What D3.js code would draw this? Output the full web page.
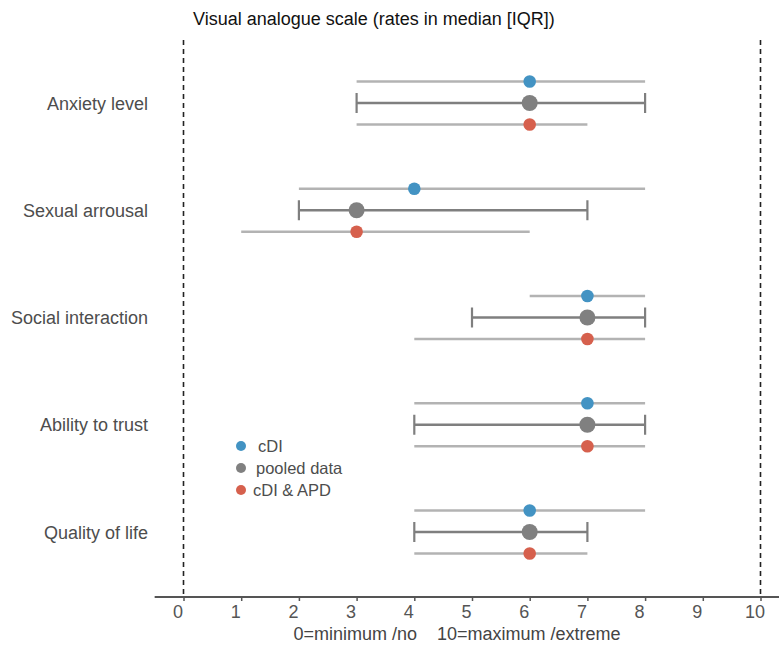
<!DOCTYPE html>
<html><head><meta charset="utf-8">
<script src="https://cdn.jsdelivr.net/npm/d3@7"></script>
<style>body{margin:0;background:#fff}svg{display:block}text{font-family:"Liberation Sans",Arial,sans-serif}</style>
</head><body><svg id="c" width="779" height="650"></svg>
<script>
const categories = ["Anxiety level","Sexual arrousal","Social interaction","Ability to trust","Quality of life"];
const seriesNames = ["cDI","pooled data","cDI & APD"];
const cdiMedian = [6,4,7,7,6];
const cdiLow    = [3,2,6,4,4];
const cdiHigh   = [8,8,8,8,8];
const pooledMedian = [6,3,7,7,6];
const pooledLow    = [3,2,5,4,4];
const pooledHigh   = [8,7,8,8,7];
const apdMedian = [6,3,7,7,6];
const apdLow    = [3,1,4,4,4];
const apdHigh   = [7,6,8,8,7];
const xTicks = [0,1,2,3,4,5,6,7,8,9,10];
const colors = ["#4393c3","#808080","#d6604d"];

const svg = d3.select("#c");
const x = d3.scaleLinear().domain([0,10]).range([183.5,760.5]);
const y = d3.scalePoint().domain(categories).range([103,532]);
const offsets = [-21.5,0,21.5];
const axisY = 597;

// dashed reference lines
[0,10].forEach(v=>{
  svg.append("line").attr("x1",x(v)).attr("x2",x(v)).attr("y1",40).attr("y2",axisY)
    .attr("stroke","#222").attr("stroke-width",1.6).attr("stroke-dasharray","5,4");
});

// axis
const axis = d3.axisBottom(x).tickValues(xTicks).tickSize(4).tickPadding(4).tickSizeOuter(0);
const ag = svg.append("g").attr("transform",`translate(0,${axisY})`).call(axis);
ag.select(".domain").remove();
ag.append("line").attr("x1",x(-0.5)).attr("x2",779).attr("y1",0).attr("y2",0).attr("stroke","#555").attr("stroke-width",2);
ag.selectAll(".tick line").attr("stroke","#555").attr("stroke-width",1.5);
ag.selectAll(".tick text").attr("fill","#555").attr("font-size",18).attr("dx",-6)
  .attr("font-family","Liberation Sans, Arial, sans-serif");

svg.append("text").attr("x",457).attr("y",640).attr("text-anchor","middle")
  .attr("fill","#444").attr("font-size",18).style("white-space","pre")
  .text("0=minimum /no    10=maximum /extreme");

// title
svg.append("text").attr("x",193).attr("y",25).attr("fill","#111").attr("font-size",18)
  .text("Visual analogue scale (rates in median [IQR])");

// category labels
svg.selectAll(".cat").data(categories).enter().append("text")
  .attr("x",148).attr("y",d=>y(d)+6.5).attr("text-anchor","end")
  .attr("fill","#4d4d4d").attr("font-size",18).text(d=>d);

const series = [
  {med:cdiMedian,lo:cdiLow,hi:cdiHigh},
  {med:pooledMedian,lo:pooledLow,hi:pooledHigh},
  {med:apdMedian,lo:apdLow,hi:apdHigh}
];
series.forEach((s,si)=>{
  categories.forEach((c,i)=>{
    const yy = y(c)+offsets[si];
    const col = si===1 ? "#7f7f7f" : "#b3b3b3";
    svg.append("line").attr("x1",x(s.lo[i])).attr("x2",x(s.hi[i])).attr("y1",yy).attr("y2",yy)
      .attr("stroke",col).attr("stroke-width",2.4);
    if(si===1){
      [s.lo[i],s.hi[i]].forEach(v=>{
        svg.append("line").attr("x1",x(v)).attr("x2",x(v)).attr("y1",yy-10).attr("y2",yy+10)
          .attr("stroke",col).attr("stroke-width",2.2);
      });
    }
  });
});
series.forEach((s,si)=>{
  categories.forEach((c,i)=>{
    svg.append("circle").attr("cx",x(s.med[i])).attr("cy",y(c)+offsets[si])
      .attr("r",si===1?8:6.3).attr("fill",colors[si]);
  });
});

// legend
const legY = [446,468,490];
const legTx = [258,256,253];
seriesNames.forEach((n,i)=>{
  svg.append("circle").attr("cx",241).attr("cy",legY[i]).attr("r",5).attr("fill",colors[i]);
  svg.append("text").attr("x",legTx[i]).attr("y",legY[i]+5.5).attr("fill","#4d4d4d").attr("font-size",16.5).text(n);
});
</script></body></html>
